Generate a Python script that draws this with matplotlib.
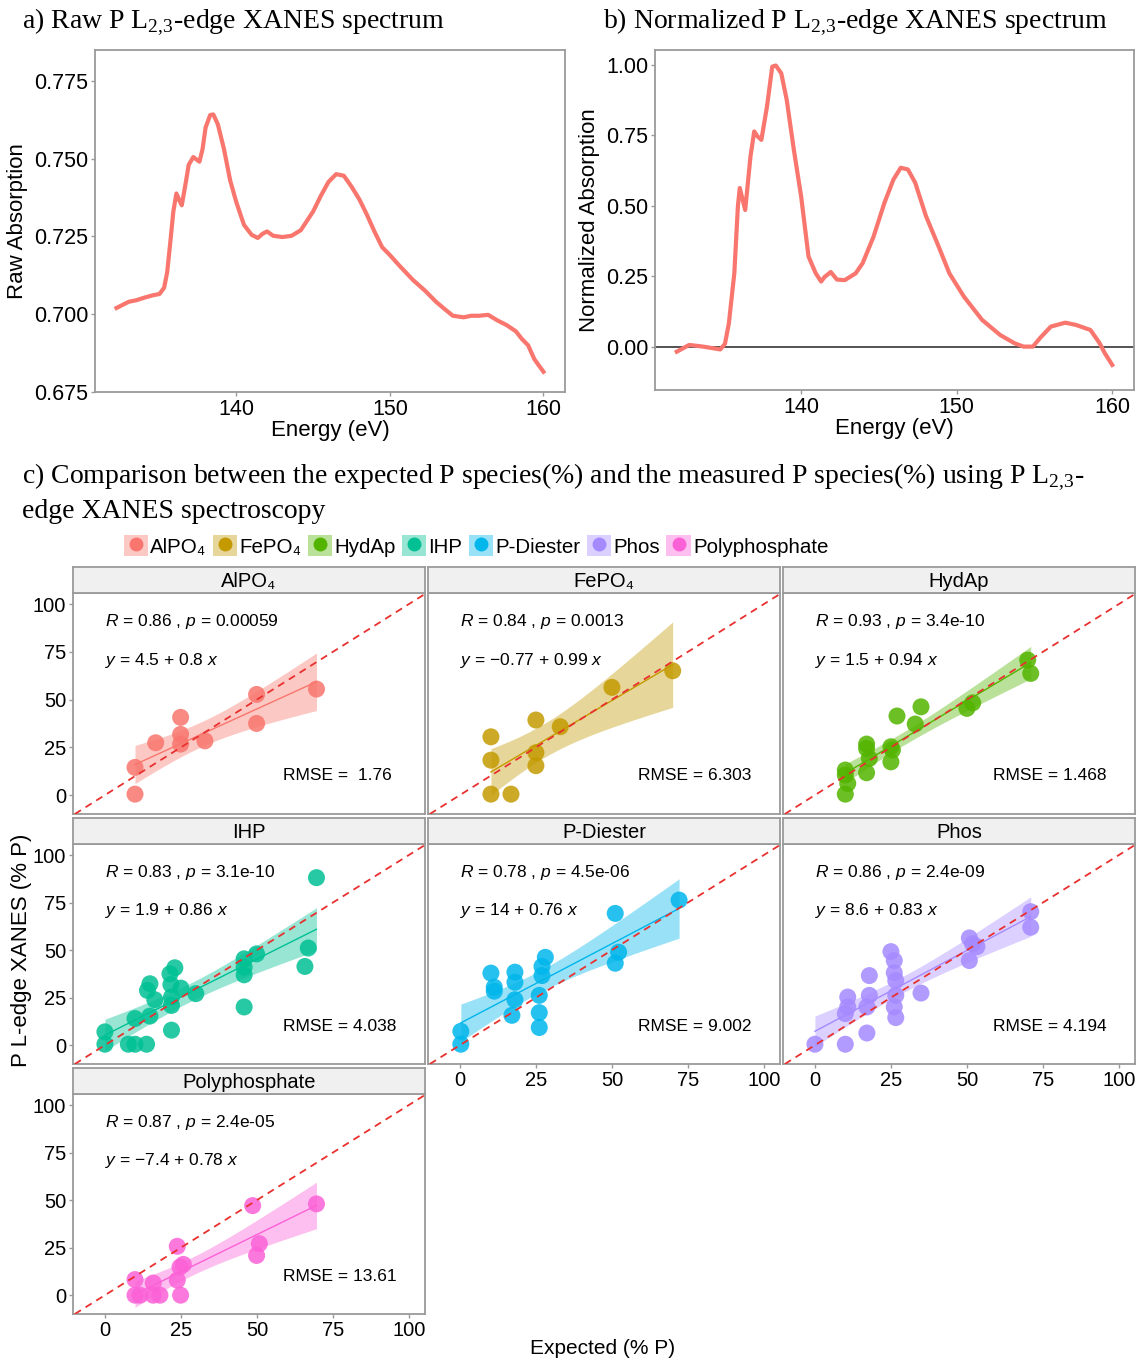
import numpy as np
import matplotlib
matplotlib.use("Agg")
import matplotlib.pyplot as plt
from matplotlib.patches import Patch
from matplotlib.lines import Line2D
from matplotlib.legend_handler import HandlerTuple

plt.rcParams['font.family'] = ['Liberation Sans', 'DejaVu Sans']
plt.rcParams['mathtext.fontset'] = 'custom'
plt.rcParams['mathtext.rm'] = 'Liberation Serif'
plt.rcParams['mathtext.it'] = 'Liberation Sans:italic'

# ---- spectra ----
raw_energy = [132.2, 132.6, 133.0, 133.5, 134.0, 134.5, 135.0, 135.3, 135.5, 135.7,
              135.9, 136.1, 136.3, 136.45, 136.7, 136.9, 137.2, 137.6, 137.8, 138.0,
              138.3, 138.5, 138.8, 139.2, 139.6, 140.0, 140.5, 141.0, 141.4, 141.7,
              142.0, 142.4, 143.0, 143.6, 144.2, 144.6, 145.0, 145.5, 146.0, 146.5,
              147.0, 147.5, 148.0, 148.5, 149.0, 149.5, 150.0, 150.6, 151.5, 152.3,
              153.0, 153.6, 154.1, 154.8, 155.3, 155.8, 156.4, 157.0, 157.6, 158.2,
              158.6, 159.0, 159.4, 159.7, 160.0]
raw_abs = [0.7020, 0.7030, 0.7040, 0.7045, 0.7053, 0.7060, 0.7065, 0.7085, 0.7135, 0.7230,
           0.7330, 0.7388, 0.7365, 0.7350, 0.7420, 0.7480, 0.7505, 0.7490, 0.7530, 0.7600,
           0.7640, 0.7642, 0.7610, 0.7530, 0.7430, 0.7360, 0.7287, 0.7255, 0.7245, 0.7258,
           0.7266, 0.7252, 0.7248, 0.7252, 0.7270, 0.7300, 0.7330, 0.7380, 0.7425, 0.7450,
           0.7445, 0.7410, 0.7370, 0.7320, 0.7265, 0.7215, 0.7190, 0.7157, 0.7110, 0.7075,
           0.7040, 0.7015, 0.6995, 0.6990, 0.6995, 0.6995, 0.6998, 0.6980, 0.6965, 0.6945,
           0.6920, 0.6900, 0.6856, 0.6835, 0.6815]

norm_energy = [132.0, 132.8, 133.7, 134.8, 135.1, 135.35, 135.7, 135.93, 136.05, 136.4,
               136.74, 136.98, 137.2, 137.44, 137.8, 138.14, 138.37, 138.72, 139.07, 139.53,
               140.0, 140.47, 140.93, 141.28, 141.5, 141.9, 142.3, 142.8, 143.5, 143.95,
               144.65, 145.35, 145.93, 146.4, 146.86, 147.33, 148.02, 148.84, 149.53, 150.47,
               151.63, 152.8, 153.72, 154.3, 154.9, 155.35, 156.05, 156.98, 157.67, 158.6,
               159.19, 159.53, 160.0]
norm_abs = [-0.018, 0.006, 0.0, -0.010, 0.010, 0.083, 0.26, 0.498, 0.563, 0.485,
            0.675, 0.764, 0.746, 0.734, 0.852, 0.994, 0.998, 0.970, 0.876, 0.698,
            0.532, 0.320, 0.261, 0.231, 0.247, 0.265, 0.238, 0.236, 0.260, 0.296,
            0.390, 0.510, 0.593, 0.635, 0.629, 0.582, 0.464, 0.355, 0.260, 0.177,
            0.095, 0.041, 0.012, 0.0, 0.0, 0.030, 0.071, 0.085, 0.077, 0.059,
            0.012, -0.024, -0.065]

# ---- expected vs measured (% P) ----
alpo4_x = [9.9, 9.9, 16.7, 24.9, 24.9, 24.9, 32.9, 49.9, 49.9, 69.6]
alpo4_y = [14.5, 0.5, 27.4, 40.7, 31.8, 26.7, 28.4, 52.7, 37.5, 55.5]

fepo4_x = [10.2, 10.2, 10.2, 16.8, 25.0, 25.0, 25.0, 33.0, 50.0, 70.0]
fepo4_y = [30.5, 18.3, 0.5, 0.5, 39.3, 22.2, 15.4, 35.8, 56.4, 65.1]

hydap_x = [10.0, 10.0, 10.8, 10.0, 17.0, 17.0, 17.9, 17.0, 25.0, 25.5,
           25.0, 27.0, 33.0, 34.9, 50.0, 51.9, 70.0, 71.0]
hydap_y = [13.1, 10.5, 6.1, 0.5, 26.7, 24.4, 19.2, 11.7, 25.3, 23.6,
           17.4, 41.4, 37.2, 46.2, 45.4, 48.3, 70.7, 63.7]

ihp_x = [69.6, 66.9, 65.8, 49.9, 45.8, 45.8, 45.8, 45.8, 29.9, 25.0,
         23.0, 21.4, 21.7, 21.9, 21.9, 21.9, 14.8, 14.0, 16.4, 14.8,
         9.9, 0.0, 0.0, 7.7, 9.9, 13.7]
ihp_y = [88.1, 51.1, 41.4, 48.0, 45.4, 41.0, 37.0, 20.1, 27.1, 30.0,
         40.7, 37.5, 31.9, 25.3, 20.9, 7.9, 32.3, 28.8, 23.9, 15.3,
         14.0, 7.0, 0.5, 0.5, 0.5, 0.5]

pdiester_x = [72.1, 51.1, 52.2, 51.1, 28.1, 27.0, 27.0, 26.1, 26.1, 26.1,
              10.2, 11.3, 11.3, 18.1, 18.1, 18.1, 17.1, 0.3, 0.3]
pdiester_y = [76.3, 69.3, 48.9, 43.1, 46.2, 41.4, 36.6, 26.2, 17.1, 9.3,
              37.9, 30.5, 28.4, 38.4, 33.1, 23.9, 15.7, 7.3, 0.5]

phos_x = [71.0, 71.0, 50.8, 51.9, 53.3, 50.8, 25.0, 26.1, 26.1, 26.6,
          26.6, 26.1, 26.6, 34.9, 17.9, 17.9, 17.1, 17.1, 10.8, 10.8,
          10.0, 10.0, 0.0]
phos_y = [70.2, 62.0, 56.4, 53.2, 51.8, 44.5, 49.2, 44.5, 38.1, 34.0,
          26.2, 20.1, 14.5, 27.4, 36.6, 26.2, 20.1, 6.4, 25.3, 20.1,
          16.6, 0.5, 0.5]

polyp_x = [69.6, 48.6, 50.8, 49.9, 23.8, 25.8, 24.7, 23.8, 24.9, 15.9,
           15.9, 18.1, 9.9, 9.9, 11.5]
polyp_y = [48.0, 47.1, 27.1, 20.9, 25.7, 16.2, 14.8, 7.9, 0.0, 6.4,
           0.0, 0.0, 8.2, 0.0, 0.0]

species = ["AlPO₄", "FePO₄", "HydAp", "IHP", "P-Diester", "Phos", "Polyphosphate"]
colors = ["#F8766D", "#C49A00", "#53B400", "#00C094", "#00B6EB", "#A58AFF", "#FB61D7"]
xs = [alpo4_x, fepo4_x, hydap_x, ihp_x, pdiester_x, phos_x, polyp_x]
ys = [alpo4_y, fepo4_y, hydap_y, ihp_y, pdiester_y, phos_y, polyp_y]
r_labels = ["$R$ = 0.86 , $p$ = 0.00059", "$R$ = 0.84 , $p$ = 0.0013",
            "$R$ = 0.93 , $p$ = 3.4e-10", "$R$ = 0.83 , $p$ = 3.1e-10",
            "$R$ = 0.78 , $p$ = 4.5e-06", "$R$ = 0.86 , $p$ = 2.4e-09",
            "$R$ = 0.87 , $p$ = 2.4e-05"]
eq_labels = ["$y$ = 4.5 + 0.8 $x$", "$y$ = \u22120.77 + 0.99 $x$",
             "$y$ = 1.5 + 0.94 $x$", "$y$ = 1.9 + 0.86 $x$",
             "$y$ = 14 + 0.76 $x$", "$y$ = 8.6 + 0.83 $x$",
             "$y$ = \u22127.4 + 0.78 $x$"]
rmse_labels = ["RMSE =  1.76", "RMSE = 6.303", "RMSE = 1.468", "RMSE = 4.038",
               "RMSE = 9.002", "RMSE = 4.194", "RMSE = 13.61"]

W, H = 1137, 1360
fig = plt.figure(figsize=(W / 100, H / 100), dpi=100)
GREY = "#9a9a9a"
SUB = "$_{2,\\!3}$"


def px_axes(x0, y0, x1, y1):
    return fig.add_axes([x0 / W, 1 - y1 / H, (x1 - x0) / W, (y1 - y0) / H])


def style_box(ax):
    for s in ax.spines.values():
        s.set_color(GREY)
        s.set_linewidth(1.3)
    ax.tick_params(colors=GREY, labelcolor="black", length=3, width=1)


# ---- a) raw spectrum ----
ax = px_axes(95, 50, 565, 392)
ax.plot(raw_energy, raw_abs, color="#F8766D", lw=3)
ax.set_xlim(130.8, 161.4)
ax.set_ylim(0.675, 0.7849)
ax.set_xticks([140, 150, 160])
ax.set_yticks([0.675, 0.700, 0.725, 0.750, 0.775])
ax.set_yticklabels(["0.675", "0.700", "0.725", "0.750", "0.775"])
style_box(ax)
ax.tick_params(labelsize=15.5, pad=2)
ax.set_xlabel("Energy (eV)", fontsize=16, labelpad=0)
ax.set_ylabel("Raw Absorption", fontsize=16, labelpad=4)
fig.text(22 / W, 1 - 22 / H, "a) Raw P L" + SUB + "-edge XANES spectrum",
         family="Liberation Serif", fontsize=20, va="center", ha="left")

# ---- b) normalized spectrum ----
ax = px_axes(655, 50, 1134, 390)
ax.axhline(0, color="#444444", lw=1.3)
ax.plot(norm_energy, norm_abs, color="#F8766D", lw=3)
ax.set_xlim(130.6, 161.4)
ax.set_ylim(-0.154, 1.053)
ax.set_xticks([140, 150, 160])
ax.set_yticks([0, 0.25, 0.5, 0.75, 1.0])
ax.set_yticklabels(["0.00", "0.25", "0.50", "0.75", "1.00"])
style_box(ax)
ax.tick_params(labelsize=15.5, pad=2)
ax.set_xlabel("Energy (eV)", fontsize=16, labelpad=0)
ax.set_ylabel("Normalized Absorption", fontsize=16, labelpad=4)
fig.text(603 / W, 1 - 22 / H, "b) Normalized P L" + SUB + "-edge XANES spectrum",
         family="Liberation Serif", fontsize=20, va="center", ha="left")

# ---- c) facets ----
fig.text(22 / W, 1 - 477 / H,
         "c) Comparison between the expected P species(%) and the measured P species(%) using P L" + SUB + "-",
         family="Liberation Serif", fontsize=20, va="center", ha="left")
fig.text(22 / W, 1 - 512 / H, "edge XANES spectroscopy",
         family="Liberation Serif", fontsize=20, va="center", ha="left")

cols = [(73, 425), (428, 780), (783, 1135)]
rows = [(567, 593, 814), (818, 844, 1064), (1068, 1094, 1314)]


def t95(df):
    z = 1.959964
    return z + (z ** 3 + z) / (4 * df) + (5 * z ** 5 + 16 * z ** 3 + 3 * z) / (96 * df ** 2)


for i, name in enumerate(species):
    r, c = divmod(i, 3)
    x0, x1 = cols[c]
    st, pt, pb = rows[r]
    x = np.array(xs[i])
    y = np.array(ys[i])
    col = colors[i]

    ax = px_axes(x0, pt, x1, pb)
    slope, icpt = np.polyfit(x, y, 1)
    n = len(x)
    resid = y - (icpt + slope * x)
    s = np.sqrt(np.sum(resid ** 2) / (n - 2))
    xg = np.linspace(x.min(), x.max(), 80)
    fit = icpt + slope * xg
    se = s * np.sqrt(1 / n + (xg - x.mean()) ** 2 / np.sum((x - x.mean()) ** 2))
    hw = t95(n - 2) * se
    ax.fill_between(xg, fit - hw, fit + hw, color=col, alpha=0.4, lw=0, zorder=1)
    ax.plot(xg, fit, color=col, lw=1, zorder=2)
    ax.scatter(x, y, s=150, color=col, alpha=0.85, edgecolors="none", zorder=3)
    ax.axline((0, 0), slope=1, color="#E8312F", ls=(0, (4, 3)), lw=1.3, zorder=4)
    ax.set_xlim(-10.5, 105.3)
    ax.set_ylim(-9.9, 105.8)
    ax.set_xticks([0, 25, 50, 75, 100])
    ax.set_yticks([0, 25, 50, 75, 100])
    style_box(ax)
    ax.tick_params(labelsize=14.5, pad=2)
    if c != 0:
        ax.tick_params(axis="y", left=False, labelleft=False)
    bottom_row = (c == 0 and r == 2) or (c > 0 and r == 1)
    if not bottom_row:
        ax.tick_params(axis="x", bottom=False, labelbottom=False)
    ax.text(0, 91, r_labels[i], fontsize=12.5, va="center", ha="left")
    ax.text(0, 70.7, eq_labels[i], fontsize=12.5, va="center", ha="left")
    ax.text(58.5, 10, rmse_labels[i], fontsize=12.5, va="center", ha="left")

    sax = px_axes(x0, st, x1, pt)
    sax.set_facecolor("#F0F0F0")
    sax.set_xticks([])
    sax.set_yticks([])
    for sp in sax.spines.values():
        sp.set_color(GREY)
        sp.set_linewidth(1.3)
    sax.text(0.5, 0.45, name, transform=sax.transAxes, fontsize=14.5,
             ha="center", va="center", family=["Liberation Sans", "DejaVu Sans"])

fig.text(22 / W, 1 - 950 / H, "P L-edge XANES (% P)", rotation=90,
         fontsize=16, ha="center", va="center")
fig.text(603 / W, 1 - 1348 / H, "Expected (% P)", fontsize=15,
         ha="center", va="center")

handles = [(Patch(facecolor=c, alpha=0.4, edgecolor="none"),
            Line2D([], [], marker="o", color=c, ls="", markersize=9))
           for c in colors]
fig.legend(handles, species, loc="center", ncol=7,
           bbox_to_anchor=(476 / W, 1 - 546 / H), frameon=False,
           handler_map={tuple: HandlerTuple(ndivide=1)},
           handlelength=1.2, handleheight=1.2, handletextpad=0.1,
           columnspacing=0.3, fontsize=14.8)

fig.savefig("out.png", dpi=100)
